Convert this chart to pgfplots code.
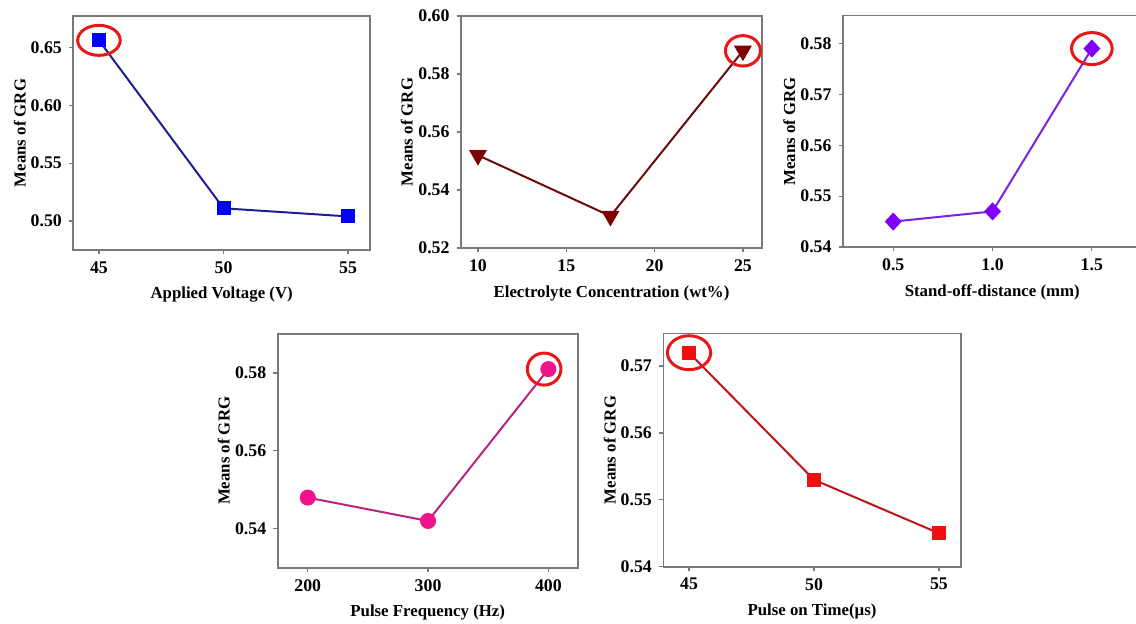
\documentclass[border=0pt]{standalone}
\usepackage{pgfplots}
\pgfplotsset{compat=1.18}
\usepackage{fontspec}
\setmainfont{Liberation Serif}
\definecolor{axgray}{HTML}{7A7A7A}
\definecolor{c1line}{HTML}{1E1E96}
\definecolor{c1mark}{HTML}{0000FF}
\definecolor{c2line}{HTML}{6B0A0A}
\definecolor{c2mark}{HTML}{7E0000}
\definecolor{c3line}{HTML}{7A22E0}
\definecolor{c3mark}{HTML}{8000FF}
\definecolor{c4line}{HTML}{B8247E}
\definecolor{c4mark}{HTML}{F0148C}
\definecolor{c5line}{HTML}{C01414}
\definecolor{c5mark}{HTML}{EE1010}
\definecolor{ringred}{HTML}{E81818}
\pgfplotsset{
  panel/.style={
    scale only axis, clip=false,
    axis line style={axgray, line width=0.8pt},
    tick align=outside, xtick pos=left, ytick pos=left,
    major tick length=2.2pt,
    tick style={axgray, line width=0.6pt},
    /pgf/number format/assume math mode=true,
    ticklabel style={font=\fontsize{8.9}{10}\selectfont\bfseries},
    yticklabel style={/pgf/number format/fixed, /pgf/number format/fixed zerofill, /pgf/number format/precision=2},
    label style={font=\fontsize{8.4}{10}\selectfont\bfseries},
    xlabel style={at={(axis description cs:0.5,0)}, anchor=center, yshift=-22.5pt},
    ylabel style={at={(axis description cs:-0.18,0.5)}, anchor=center},
    ylabel={Means of GRG},
  },
  ring/.style={only marks, mark=o, ringred, line width=1.5pt},
}
\begin{document}
\begin{tikzpicture}
\useasboundingbox (0,0) rectangle (568pt,-311.5pt);
% Panel 1
\begin{axis}[panel, anchor=south west, at={(36.65pt,-125pt)}, width=148.35pt, height=117pt,
  xmin=43.97, xmax=55.88, ymin=0.475, ymax=0.677,
  xtick={45,50,55}, ytick={0.50,0.55,0.60,0.65},
  xlabel={Applied Voltage (V)}]
\addplot[c1line, line width=1pt, mark=square*, mark size=3pt, mark options={c1mark, draw=c1mark}]
  coordinates {(45,0.656) (50,0.511) (55,0.504)};
\addplot[ring, mark size=7.5pt, mark options={xscale=1.42}] coordinates {(45,0.656)};
\end{axis}
% Panel 2
\begin{axis}[panel, anchor=south west, at={(230.5pt,-124pt)}, width=150.5pt, height=116pt,
  xmin=9.04, xmax=26.08, ymin=0.52, ymax=0.60,
  xtick={10,15,20,25}, ytick={0.52,0.54,0.56,0.58,0.60},
  xlabel={Electrolyte Concentration (wt\%)}]
\addplot[c2line, line width=1pt, mark=triangle*, mark size=4.2pt, mark options={c2mark, draw=c2mark, rotate=180}]
  coordinates {(10,0.552) (17.5,0.531) (25,0.588)};
\addplot[ring, mark size=7.6pt, mark options={xscale=1.15}] coordinates {(25,0.588)};
\end{axis}
% Panel 3
\begin{axis}[panel, anchor=south west, at={(421.5pt,-123.5pt)}, width=149.25pt, height=115.75pt,
  xmin=0.247, xmax=1.75, ymin=0.54, ymax=0.5855,
  xtick={0.5,1.0,1.5}, ytick={0.54,0.55,0.56,0.57,0.58},
  xticklabel style={/pgf/number format/fixed, /pgf/number format/fixed zerofill, /pgf/number format/precision=1},
  xlabel={Stand-off-distance (mm)}]
\addplot[c3line, line width=1pt, mark=diamond*, mark size=3.8pt, mark options={c3mark, draw=c3mark, xscale=1.25}]
  coordinates {(0.5,0.545) (1.0,0.547) (1.5,0.579)};
\addplot[ring, mark size=8pt, mark options={xscale=1.27}] coordinates {(1.5,0.579)};
\end{axis}
% Panel 4
\begin{axis}[panel, anchor=south west, at={(138.85pt,-283.85pt)}, width=150pt, height=116.85pt,
  xmin=175, xmax=424.4, ymin=0.530, ymax=0.590,
  xtick={200,300,400}, ytick={0.54,0.56,0.58},
  xlabel={Pulse Frequency (Hz)}]
\addplot[c4line, line width=1pt, mark=*, mark size=3.5pt, mark options={c4mark, draw=c4mark}]
  coordinates {(200,0.548) (300,0.542) (400,0.581)};
\addplot[ring, mark size=8pt, mark options={xscale=1.05}] coordinates {(396.5,0.581)};
\end{axis}
% Panel 5
\begin{axis}[panel, anchor=south west, at={(331.65pt,-283.35pt)}, width=148.7pt, height=116.7pt,
  xmin=43.97, xmax=55.87, ymin=0.54, ymax=0.5749,
  xtick={45,50,55}, ytick={0.54,0.55,0.56,0.57},
  xlabel={Pulse on Time(\textmu s)}]
\addplot[c5line, line width=1pt, mark=square*, mark size=2.9pt, mark options={c5mark, draw=c5mark}]
  coordinates {(45,0.572) (50,0.553) (55,0.545)};
\addplot[ring, mark size=8.5pt, mark options={xscale=1.27}] coordinates {(45,0.572)};
\end{axis}
\end{tikzpicture}
\end{document}
